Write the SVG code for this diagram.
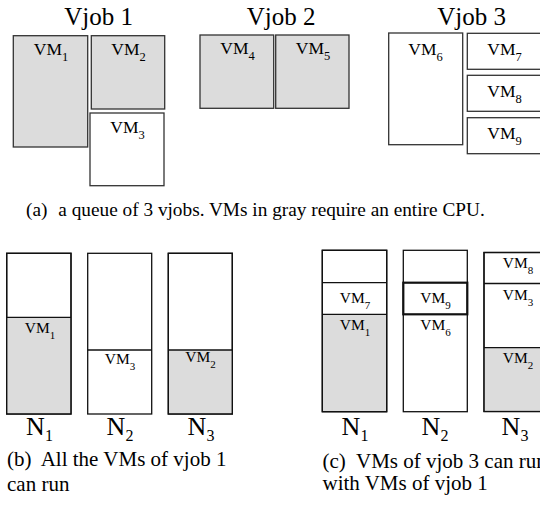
<svg xmlns="http://www.w3.org/2000/svg" width="540" height="508" viewBox="0 0 540 508">
<style>
.box{fill:#fff;stroke:#333;stroke-width:1.3}
.g{fill:#dcdcdc}
.col{fill:#fff;stroke:#111;stroke-width:1.3}
.nf{fill:none}
.div{stroke:#111;stroke-width:1.3;fill:none}
.title{font-size:25px;text-anchor:middle}
.vm{font-size:17.5px;text-anchor:middle}
.vms{font-size:15.5px;text-anchor:middle}
.sub{font-size:12.5px}
.subs{font-size:11px}
.n{font-size:26px;text-anchor:middle}
.nsub{font-size:16px}
.cap{font-size:19.3px}
.cap2{font-size:21px}
</style>
<rect width="540" height="508" fill="#fff"/>
<g font-family="'Liberation Serif', 'DejaVu Serif', 'Times New Roman', serif" fill="#000">
<g id="vjob1">
<text class="title" x="98.5" y="25">Vjob 1</text>
<g id="vm1"><rect class="box g" x="13.3" y="35.7" width="74.4" height="111.3"/><text class="vm" x="51" y="55">VM<tspan class="sub" dy="6">1</tspan></text></g>
<g id="vm2"><rect class="box g" x="91.3" y="35.7" width="73.4" height="73.3"/><text class="vm" x="128.5" y="55">VM<tspan class="sub" dy="6">2</tspan></text></g>
<g id="vm3"><rect class="box" x="90" y="113" width="74" height="72.7"/><text class="vm" x="127.5" y="133">VM<tspan class="sub" dy="6">3</tspan></text></g>
</g>
<g id="vjob2">
<text class="title" x="281" y="25">Vjob 2</text>
<g id="vm4"><rect class="box g" x="200" y="35" width="73.7" height="73.3"/><text class="vm" x="237.5" y="54">VM<tspan class="sub" dy="6">4</tspan></text></g>
<g id="vm5"><rect class="box g" x="275.7" y="35" width="73.3" height="73.3"/><text class="vm" x="313" y="54">VM<tspan class="sub" dy="6">5</tspan></text></g>
</g>
<g id="vjob3">
<text class="title" x="471.5" y="25">Vjob 3</text>
<g id="vm6"><rect class="box" x="388.7" y="33" width="74" height="111.7"/><text class="vm" x="425.5" y="55">VM<tspan class="sub" dy="6">6</tspan></text></g>
<g id="vm7"><rect class="box" x="467.3" y="33.3" width="90" height="36"/><text class="vm" x="504.5" y="55">VM<tspan class="sub" dy="6">7</tspan></text></g>
<g id="vm8"><rect class="box" x="467.3" y="75.3" width="90" height="36"/><text class="vm" x="504.5" y="97">VM<tspan class="sub" dy="6">8</tspan></text></g>
<g id="vm9"><rect class="box" x="467.3" y="117.7" width="90" height="36"/><text class="vm" x="504.5" y="139">VM<tspan class="sub" dy="6">9</tspan></text></g>
</g>
<text class="cap" x="26" y="216">(a)<tspan x="58.3">a queue of 3 vjobs. VMs in gray require an entire CPU.</tspan></text>
<g id="b-n1">
<rect class="col" x="6.7" y="253.3" width="64.3" height="160.7"/>
<rect class="g" x="7.4" y="317.3" width="62.9" height="96"/>
<line class="div" x1="6.7" y1="317.3" x2="71" y2="317.3"/>
<rect class="col nf" x="6.7" y="253.3" width="64.3" height="160.7"/>
<text class="vms" x="40" y="333">VM<tspan class="subs" dy="6">1</tspan></text>
<text class="n" x="39.5" y="435">N<tspan class="nsub" dy="6">1</tspan></text>
</g>
<g id="b-n2">
<rect class="col" x="87.7" y="253.3" width="64" height="160.7"/>
<line class="div" x1="87.7" y1="350" x2="151.7" y2="350"/>
<text class="vms" x="120" y="364">VM<tspan class="subs" dy="6">3</tspan></text>
<text class="n" x="120" y="435">N<tspan class="nsub" dy="6">2</tspan></text>
</g>
<g id="b-n3">
<rect class="col" x="168.3" y="253.3" width="64" height="160.7"/>
<rect class="g" x="169" y="350" width="62.6" height="63.3"/>
<line class="div" x1="168.3" y1="350" x2="232.3" y2="350"/>
<rect class="col nf" x="168.3" y="253.3" width="64" height="160.7"/>
<text class="vms" x="200.5" y="362">VM<tspan class="subs" dy="6">2</tspan></text>
<text class="n" x="201" y="435">N<tspan class="nsub" dy="6">3</tspan></text>
</g>
<text class="cap2" x="7" y="466">(b)<tspan x="40.7">All the VMs of vjob 1</tspan></text>
<text class="cap2" x="7" y="491">can run</text>
<g id="c-n1">
<rect class="col" x="322.3" y="250.3" width="64.4" height="161.4"/>
<rect class="g" x="323" y="314.3" width="63" height="96.7"/>
<line class="div" x1="322.3" y1="282.7" x2="386.7" y2="282.7"/>
<line class="div" x1="322.3" y1="314.3" x2="386.7" y2="314.3"/>
<rect class="col nf" x="322.3" y="250.3" width="64.4" height="161.4"/>
<text class="vms" x="355" y="303">VM<tspan class="subs" dy="6">7</tspan></text>
<text class="vms" x="355" y="330">VM<tspan class="subs" dy="6">1</tspan></text>
<text class="n" x="355" y="435">N<tspan class="nsub" dy="6">1</tspan></text>
</g>
<g id="c-n2">
<rect class="col" x="403.3" y="250.3" width="64" height="161.4"/>
<rect x="403.3" y="282.7" width="64" height="31.6" fill="none" stroke="#111" stroke-width="2.2"/>
<text class="vms" x="435.5" y="303">VM<tspan class="subs" dy="6">9</tspan></text>
<text class="vms" x="435.5" y="330">VM<tspan class="subs" dy="6">6</tspan></text>
<text class="n" x="435" y="435">N<tspan class="nsub" dy="6">2</tspan></text>
</g>
<g id="c-n3">
<rect class="col" x="484" y="252.5" width="66" height="159"/>
<rect class="g" x="484.7" y="347.7" width="65" height="63.2"/>
<line class="div" x1="484" y1="283.5" x2="550" y2="283.5"/>
<line class="div" x1="484" y1="347.7" x2="550" y2="347.7"/>
<rect class="col nf" x="484" y="252.5" width="66" height="159"/>
<text class="vms" x="518" y="268">VM<tspan class="subs" dy="6">8</tspan></text>
<text class="vms" x="518" y="300">VM<tspan class="subs" dy="6">3</tspan></text>
<text class="vms" x="518" y="363">VM<tspan class="subs" dy="6">2</tspan></text>
<text class="n" x="515" y="435">N<tspan class="nsub" dy="6">3</tspan></text>
</g>
<text class="cap2" x="322.5" y="468">(c)<tspan x="356">VMs of vjob 3 can run</tspan></text>
<text class="cap2" x="322.5" y="490">with VMs of vjob 1</text>
</g>
</svg>
